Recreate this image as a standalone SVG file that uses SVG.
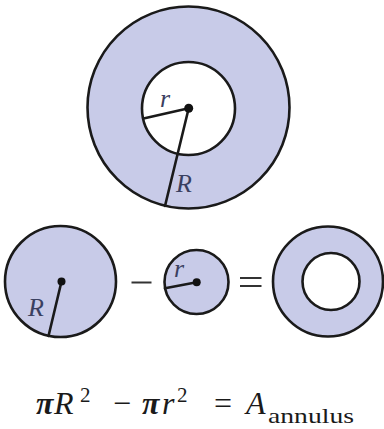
<svg xmlns="http://www.w3.org/2000/svg" width="384" height="429" viewBox="0 0 384 429">
<style>
.fill{fill:#c8cbe8;stroke:#1a1a1a;stroke-width:2.6}
.hole{fill:#ffffff;stroke:#1a1a1a;stroke-width:2.6}
.rad{stroke:#1a1a1a;stroke-width:2.6;stroke-linecap:round;fill:none}
.dot{fill:#111111}
.lbl{font-style:italic;fill:#3a4060}
.op{stroke:#333333;stroke-width:2;fill:none}
.eq{fill:#1a1a1a}
</style>
<rect width="384" height="429" fill="#ffffff"/>
<g id="annulus-top" font-family="Liberation Serif, DejaVu Serif, serif">
<circle class="fill" cx="188.5" cy="107.5" r="101"/>
<circle class="hole" cx="188.5" cy="108.5" r="46.5"/>
<line class="rad" x1="188.7" y1="108.3" x2="143.5" y2="118.5"/>
<line class="rad" x1="188.7" y1="108.3" x2="165" y2="206"/>
<circle class="dot" cx="188.7" cy="108.3" r="4.5"/>
<text class="lbl" x="160" y="107" font-size="26">r</text>
<text class="lbl" x="176" y="192" font-size="26">R</text>
</g>
<g id="circle-R" font-family="Liberation Serif, DejaVu Serif, serif">
<circle class="fill" cx="60.5" cy="281.5" r="55.5"/>
<line class="rad" x1="61.5" y1="281.5" x2="48.5" y2="336"/>
<circle class="dot" cx="61.5" cy="281.5" r="4"/>
<text class="lbl" x="28" y="316" font-size="26">R</text>
</g>
<g id="minus">
<line class="op" x1="131.5" y1="282.5" x2="151.5" y2="282.5"/>
</g>
<g id="circle-r" font-family="Liberation Serif, DejaVu Serif, serif">
<circle class="fill" cx="196.5" cy="282" r="32"/>
<line class="rad" x1="196.7" y1="282.3" x2="165" y2="288.3"/>
<circle class="dot" cx="196.7" cy="282.3" r="4"/>
<text class="lbl" x="174" y="277" font-size="26">r</text>
</g>
<g id="equals">
<line class="op" x1="240" y1="278" x2="261.5" y2="278"/>
<line class="op" x1="240" y1="286" x2="261.5" y2="286"/>
</g>
<g id="annulus-result">
<circle class="fill" cx="328" cy="281.5" r="55"/>
<circle class="hole" cx="331" cy="281.5" r="28.5"/>
</g>
<g id="formula" font-family="Liberation Serif, DejaVu Serif, serif">
<text class="eq" y="414" font-size="32"><tspan x="36" font-style="italic" font-weight="bold">π</tspan><tspan x="54" font-style="italic">R</tspan><tspan x="80" dy="-12" font-size="21">2</tspan><tspan x="113" dy="12">−</tspan><tspan x="142" font-style="italic" font-weight="bold">π</tspan><tspan x="162" font-style="italic">r</tspan><tspan x="177" dy="-12" font-size="21">2</tspan><tspan x="214" dy="12">=</tspan><tspan x="246" font-style="italic">A</tspan><tspan x="268" dy="9" font-size="22" textLength="86" lengthAdjust="spacingAndGlyphs">annulus</tspan></text>
</g>
</svg>
